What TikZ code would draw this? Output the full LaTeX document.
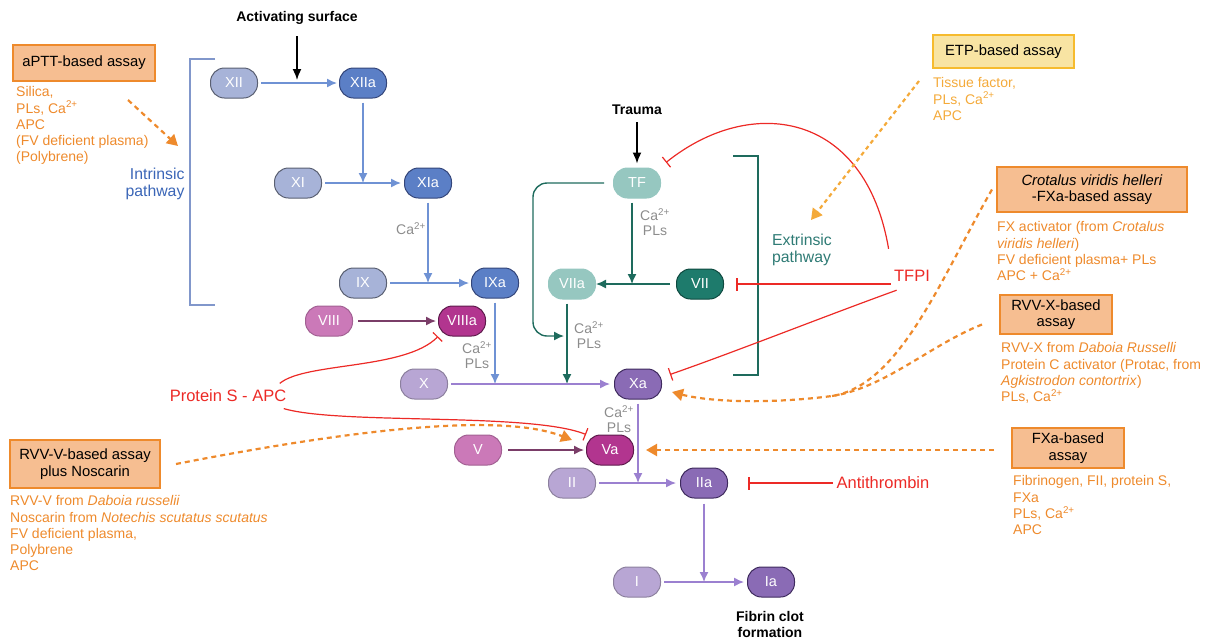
\documentclass[tikz,border=0pt]{standalone}
\usepackage{fontspec}
\setmainfont{Liberation Sans}
\usetikzlibrary{positioning, calc, arrows.meta}

\definecolor{inlight}{HTML}{A7B3D8}
\definecolor{indark}{HTML}{5B7FC6}
\definecolor{inedge}{HTML}{5A6072}
\definecolor{inactedge}{HTML}{34467A}
\definecolor{inline}{HTML}{6F92D4}
\definecolor{inbrack}{HTML}{8197CB}
\definecolor{intext}{HTML}{3B66B7}
\definecolor{pklight}{HTML}{CB79B8}
\definecolor{pkdark}{HTML}{B2358F}
\definecolor{pkedge}{HTML}{5E1B4C}
\definecolor{pkline}{HTML}{7A3D68}
\definecolor{pulight}{HTML}{B8A6D4}
\definecolor{pudark}{HTML}{8A6BB5}
\definecolor{puedge}{HTML}{3F2B5E}
\definecolor{puline}{HTML}{9B80D0}
\definecolor{tllight}{HTML}{96C7C0}
\definecolor{tldark}{HTML}{1E7B6C}
\definecolor{tledge}{HTML}{0F4A40}
\definecolor{tlline}{HTML}{1E6B5D}
\definecolor{tltext}{HTML}{2F7B75}
\definecolor{inhib}{HTML}{EC2A26}
\definecolor{assay}{HTML}{EE8A2C}
\definecolor{assayfill}{HTML}{F6BE91}
\definecolor{etp}{HTML}{F4AA3A}
\definecolor{etpfill}{HTML}{F8E4A3}
\definecolor{cofac}{HTML}{8C8C8C}

\newcommand{\caion}{Ca\textsuperscript{2+}}

\tikzset{
  factor/.style={rectangle, rounded corners=14pt, minimum width=47pt,
    minimum height=30pt, text=white, line width=1pt,
    font=\fontsize{14.5}{16}\selectfont},
  inzym/.style={factor, fill=inlight, draw=inedge},
  inact/.style={factor, fill=indark, draw=inactedge},
  pkzym/.style={factor, fill=pklight, draw=pklight!80!black},
  pkact/.style={factor, fill=pkdark, draw=pkedge},
  puzym/.style={factor, fill=pulight, draw=puedge!60},
  puact/.style={factor, fill=pudark, draw=puedge},
  tlzym/.style={factor, fill=tllight, draw=tllight},
  tlact/.style={factor, fill=tldark, draw=tledge},
  assaybox/.style={rectangle, fill=assayfill, draw=assay, line width=2pt,
    align=center, text=black, inner sep=2pt,
    font=\fontsize{14.8}{16.5}\selectfont},
  assaytext/.style={anchor=north west, align=left, inner sep=0pt, text=assay},
  cofactor/.style={align=center, text=cofac, inner sep=1pt,
    font=\fontsize{14}{15}\selectfont},
  pathtext/.style={font=\fontsize{15.8}{17}\selectfont},
  trigtext/.style={font=\bfseries\fontsize{14}{16}\selectfont, align=center},
  inhibtext/.style={text=inhib, font=\fontsize{16.5}{18}\selectfont},
  flow/.style={-{Latex[length=10pt,width=9pt]}, line width=1.4pt},
  inarrow/.style={flow, draw=inline},
  tlarrow/.style={flow, draw=tlline},
  puarrow/.style={flow, draw=puline},
  pkarrow/.style={flow, draw=pkline},
  trigger/.style={-{Latex[length=11pt,width=9pt]}, draw=black, line width=1.6pt},
  inhibit/.style={-{Bar[width=13pt]}, draw=inhib, line width=1.5pt},
  assayarrow/.style={-{Triangle[length=11pt,width=12pt]}, draw=assay,
    line width=2.2pt, dash pattern=on 5pt off 4pt},
  etparrow/.style={assayarrow, draw=etp, dash pattern=on 4pt off 3.5pt}
}

\begin{document}
\begin{tikzpicture}[x=1pt, y=-1pt,
    font=\fontsize{14}{16.2}\selectfont]
\useasboundingbox (0,0) rectangle (1208,641);

% intrinsic pathway
\node[inzym] (XII) at (234,83) {XII};
\node[inact, right=81pt of XII] (XIIa) {XIIa};
\node[inzym] (XI) at (298,183) {XI};
\node[inact, right=82pt of XI] (XIa) {XIa};
\node[inzym] (IX) at (363,283) {IX};
\node[inact, right=84pt of IX] (IXa) {IXa};
\node[pkzym] (VIII) at (329,321) {VIII};
\node[pkact, right=85pt of VIII] (VIIIa) {VIIIa};

% extrinsic pathway
\node[tlzym] (TF) at (637,183) {TF};
\node[tlzym] (VIIa) at (572,284) {VIIa};
\node[tlact, right=80pt of VIIa] (VII) {VII};

% common pathway
\node[puzym] (X) at (424,384) {X};
\node[puact, right=166pt of X] (Xa) {Xa};
\node[pkzym] (V) at (478,450) {V};
\node[pkact, right=84pt of V] (Va) {Va};
\node[puzym] (II) at (572,483) {II};
\node[puact, right=84pt of II] (IIa) {IIa};
\node[puzym] (I) at (637,582) {I};
\node[puact, right=86pt of I] (Ia) {Ia};

% triggers and pathway labels
\node[trigtext] (act) at (297,18) {Activating surface};
\node[trigtext] (trauma) at (637,110) {Trauma};
\node[trigtext] (fibrin) at (770,624) {Fibrin clot\\formation};
\node[pathtext, text=intext, align=right] (intrinsic) at (155,184) {Intrinsic\\pathway};
\node[pathtext, text=tltext, align=left] (extrinsic) at (802,250) {Extrinsic\\pathway};

% cofactors
\node[cofactor] (caXIa) at (411,229) {\caion};
\node[cofactor] (caIXa) at (477,355) {\caion\\PLs};
\node[cofactor] (caTF) at (655,222) {\caion\\PLs};
\node[cofactor] (caVIIa) at (589,335) {\caion\\PLs};
\node[cofactor] (caXa) at (619,419) {\caion\\PLs};

% inhibitors
\node[inhibtext] (TFPI) at (912,276) {TFPI};
\node[inhibtext] (PS) at (228,396) {Protein S - APC};
\node[inhibtext] (AT) at (883,483) {Antithrombin};

% assays
\node[assaybox, minimum width=142pt, minimum height=36pt] (aPTT) at (84,63) {aPTT-based assay};
\node[assaytext] (aPTTtxt) at (16,86.5)
  {Silica,\\PLs, \caion\\APC\\(FV deficient plasma)\\(Polybrene)};
\node[assaybox, fill=etpfill, draw=etp!80!yellow, minimum width=141pt, minimum height=33pt] (ETP) at (1003.5,51.5) {ETP-based assay};
\node[assaytext, text=etp] (ETPtxt) at (933,77.5)
  {Tissue factor,\\PLs, \caion\\APC};
\node[assaybox, minimum width=190pt, minimum height=45pt] (CVH) at (1092,189.5)
  {\textit{Crotalus viridis helleri}\\-FXa-based assay};
\node[assaytext] (CVHtxt) at (997,221.5)
  {FX activator (from \textit{Crotalus}\\\textit{viridis helleri})\\FV deficient plasma+ PLs\\APC + \caion};
\node[assaybox, minimum width=112pt, minimum height=39pt] (RVVX) at (1056,314.5)
  {RVV-X-based\\assay};
\node[assaytext] (RVVXtxt) at (1001,342.5)
  {RVV-X from \textit{Daboia Russelli}\\Protein C activator (Protac, from\\\textit{Agkistrodon contortrix})\\PLs, \caion};
\node[assaybox, minimum width=112pt, minimum height=40pt] (FXa) at (1068,448)
  {FXa-based\\assay};
\node[assaytext] (FXatxt) at (1013,475.5)
  {Fibrinogen, FII, protein S,\\FXa\\PLs, \caion\\APC};
\node[assaybox, minimum width=150pt, minimum height=48pt] (RVVV) at (85,464)
  {RVV-V-based assay\\plus Noscarin};
\node[assaytext] (RVVVtxt) at (10,495.5)
  {RVV-V from \textit{Daboia russelii}\\Noscarin from \textit{Notechis scutatus scutatus}\\FV deficient plasma,\\Polybrene\\APC};

% brackets
\draw[inbrack, line width=1.6pt] (215,59) -- (190,59) -- (190,305) -- (215,305);
\draw[tlline, line width=1.6pt] (733,156) -- (758,156) -- (758,375) -- (733,375);

% cascade
\draw[inarrow, shorten <=3pt, shorten >=2pt] (XII) -- (XIIa);
\draw[inarrow, shorten <=4pt] (XIIa) -- (XIIa |- XI);
\draw[inarrow, shorten <=3pt, shorten >=3pt] (XI) -- (XIa);
\draw[inarrow, shorten <=4pt] (XIa) -- (XIa |- IX);
\draw[inarrow, shorten <=3pt, shorten >=2pt] (IX) -- (IXa);
\draw[inarrow, shorten <=4pt] (IXa) -- (IXa |- X);
\draw[pkarrow, shorten <=5pt, shorten >=2pt] (VIII) -- (VIIIa);
\draw[pkarrow, shorten <=6pt, shorten >=2pt] (V) -- (Va);

\coordinate (TFout) at ([xshift=-5pt]TF.south);
\coordinate (VIIaout) at ([xshift=-5pt]VIIa.south);
\coordinate (tfleft) at (533,336);
\coordinate (tfjoin) at (564,336);
\draw[tlarrow, shorten <=4pt] (TFout) -- (TFout |- VII);
\draw[tlarrow, shorten <=6pt] (VII) -- (VIIa);
\draw[tlarrow, shorten <=4pt] (VIIaout) -- (VIIaout |- X);
\draw[tlarrow, rounded corners=14pt] ([xshift=-9pt]TF.west) -| (tfleft) -- (tfjoin);

\draw[puarrow, shorten <=3pt, shorten >=4pt] (X) -- (Xa);
\draw[puarrow, shorten <=4pt] (Xa) -- (Xa |- II);
\draw[puarrow, shorten <=3pt, shorten >=4pt] (II) -- (IIa);
\draw[puarrow, shorten <=5pt] (IIa) -- (IIa |- I);
\draw[puarrow, shorten <=3pt, shorten >=3pt] (I) -- (Ia);
\draw[trigger, shorten <=8pt, shorten >=3pt] (act) -- (act |- XII);
\draw[trigger, shorten <=4pt, shorten >=4pt] (trauma) -- (TF);

% inhibition
\draw[inhibit, line width=1.2pt] ([shift={(-2,-18)}]TFPI.north west)
  .. controls (865,110) and (750,95) .. ([shift={(5,-5)}]TF.north east);
\draw[inhibit] (TFPI.west |- VII) -- ([xshift=12pt]VII.east);
\draw[inhibit, line width=1.2pt] ([shift={(6,5)}]TFPI.south west)
  .. controls (820,318) and (740,350) .. ([shift={(8,6)}]Xa.north east);
\draw[inhibit, line width=1.2pt] ([shift={(-10,-3)}]PS.north east)
  .. controls (305,362) and (405,370) .. (VIIIa.south west);
\draw[inhibit, line width=1.2pt] ([shift={(-6,3)}]PS.south east)
  .. controls (340,425) and (530,412) .. (Va.north west);
\draw[inhibit] (AT.west) -- ([xshift=20pt]IIa.east);

% assay targets
\coordinate (apttTip) at (178,146);
\coordinate (etpTip) at (811,220);
\coordinate (merge) at (832,396);
\draw[assayarrow] ([shift={(-28,18)}]aPTT.south east) -- (apttTip);
\draw[etparrow] ([shift={(-13,12)}]ETP.south west) -- (etpTip);
\draw[assayarrow] ([xshift=-4pt]CVH.west)
  .. controls (940,280) and (900,385) .. (merge)
  .. controls (770,404) and (710,402) .. ([shift={(10,8)}]Xa.east);
\draw[assayarrow, -] ([shift={(-17,10)}]RVVX.west)
  .. controls (930,345) and (885,388) .. (merge);
\draw[assayarrow, shorten <=17pt] (FXa.west |- Va) -- ([xshift=12pt]Va.east);
\draw[assayarrow] ([xshift=15pt]RVVV.east)
  .. controls (350,430) and (500,412) .. ([shift={(-14,-10)}]Va.west);
\end{tikzpicture}
\end{document}
